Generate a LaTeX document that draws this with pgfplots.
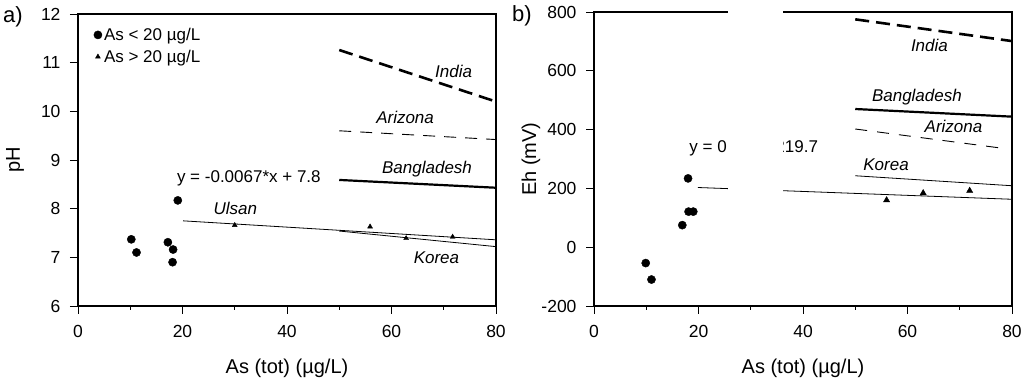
\documentclass[border=0pt]{standalone}
\usepackage{fontspec}
\setmainfont{Liberation Sans}
\usepackage{pgfplots}
\pgfplotsset{compat=1.18}
\tikzset{lab/.style={font=\fontsize{17}{19}\selectfont\itshape}}
\newcommand{\lf}{\fontsize{17}{19}\selectfont}
\begin{document}
\begin{tikzpicture}[x=1pt,y=1pt]
\useasboundingbox (0,0) rectangle (1029,385);
\pgfplotsset{
  myax/.style={
    scale only axis, anchor=south west,
    width=418pt,
    xmin=0, xmax=80, xtick={0,20,40,60,80},
    minor xtick={10,30,50,70},
    tick align=outside, tick pos=left,
    major tick length=8pt, minor tick length=4pt,
    every tick/.style={black, line width=0.9pt},
    axis line style={line width=1.1pt},
    /pgf/number format/assume math mode=true,
    tick label style={font=\fontsize{17.5}{19}\selectfont},
    label style={font=\fontsize{20}{22}\selectfont},
    xlabel={As (tot) (µg/L)},
    xlabel style={at={(axis description cs:0.5,0)}, anchor=center, yshift=-62pt},
    ylabel style={at={(axis description cs:0,0.5)}, anchor=center, yshift=63pt},
    xticklabel style={yshift=-8pt},
    yticklabel style={xshift=-6pt},
    clip=false,
  },
  thinl/.style={black, line width=0.8pt, no marks},
  thickl/.style={black, line width=2.2pt, no marks},
  circ/.style={only marks, mark=*, mark size=4.1pt, black},
  tri/.style={only marks, mark=triangle*, mark size=3.6pt, black},
}
\begin{axis}[myax, at={(78pt,79pt)}, height=292pt,
  ymin=6, ymax=12, ytick={6,7,8,9,10,11,12},
  ylabel={pH},
  legend style={at={(axis description cs:0.035,0.963)}, anchor=north west, draw=none, fill=none,
    font=\lf, row sep=4pt, inner sep=1pt},
  legend cell align=left,
  legend image code/.code={\draw[#1] plot[only marks] coordinates {(4pt,0pt)};},
]
\addplot[circ] coordinates {(10.2,7.37) (11.2,7.10) (17.2,7.31) (18.2,7.16) (18.1,6.90) (19.1,8.17)};
\addlegendentry{\lf As < 20 µg/L}
\addplot[tri, mark size=2.8pt] coordinates {(30.0,7.66) (55.9,7.63) (62.8,7.39) (71.7,7.42)};
\addlegendentry{\lf As > 20 µg/L}
\addplot[black, line width=2.6pt, dash pattern=on 14pt off 7pt, no marks] coordinates {(50,11.26) (80,10.20)};
\addplot[black, line width=0.9pt, dash pattern=on 12pt off 9pt, no marks] coordinates {(50,9.60) (80,9.42)};
\addplot[thickl] coordinates {(50,8.59) (80,8.43)};
\addplot[thinl] coordinates {(20.1,7.75) (80,7.36)};
\addplot[thinl] coordinates {(50,7.54) (80,7.22)};
\node[lab] at (axis cs:71.9,10.82) {India};
\node[lab] at (axis cs:62.6,9.88) {Arizona};
\node[lab] at (axis cs:66.8,8.81) {Bangladesh};
\node[lab] at (axis cs:30.1,8.01) {Ulsan};
\node[lab] at (axis cs:68.6,7.0) {Korea};
\node[font=\lf] at (axis cs:32.7,8.62) {y = -0.0067*x + 7.8};
\draw[black, line width=1.1pt] (axis cs:0,12) -- (axis cs:80,12) -- (axis cs:80,6);
\end{axis}
\node[font=\fontsize{22}{24}\selectfont] at (13,368) {a)};
\begin{axis}[myax, at={(594pt,79pt)}, height=294pt,
  ymin=-200, ymax=800, ytick={-200,0,200,400,600,800},
  ylabel={Eh (mV)},
]
\addplot[circ] coordinates {(9.9,-54) (11.0,-110) (16.9,75) (18.0,234) (18.1,121) (19.0,121)};
\addplot[tri] coordinates {(56.0,160) (63.0,184) (71.9,192)};
\addplot[black, line width=2.6pt, dash pattern=on 14pt off 7pt, no marks] coordinates {(50,775) (80,701)};
\addplot[thickl] coordinates {(50,470) (80,444)};
\addplot[black, line width=0.9pt, dash pattern=on 12pt off 10pt, no marks] coordinates {(50,402) (78.4,336)};
\addplot[thinl] coordinates {(50,243) (80,209)};
\addplot[thinl] coordinates {(19.9,203) (80,163)};
\node[lab] at (axis cs:64.2,685) {India};
\node[lab] at (axis cs:61.8,509) {Bangladesh};
\node[lab] at (axis cs:68.8,410) {Arizona};
\node[lab] at (axis cs:55.9,282) {Korea};
\node[font=\lf, anchor=west] at (axis cs:17.6,336) {y = 0.3*x + 219.7};
\draw[black, line width=1.1pt] (axis cs:0,800) -- (axis cs:80,800) -- (axis cs:80,-200);
\fill[white] (axis cs:25.6,815) rectangle (axis cs:36.2,175);
\end{axis}
\node[font=\fontsize{22}{24}\selectfont] at (522,369) {b)};
\end{tikzpicture}
\end{document}
